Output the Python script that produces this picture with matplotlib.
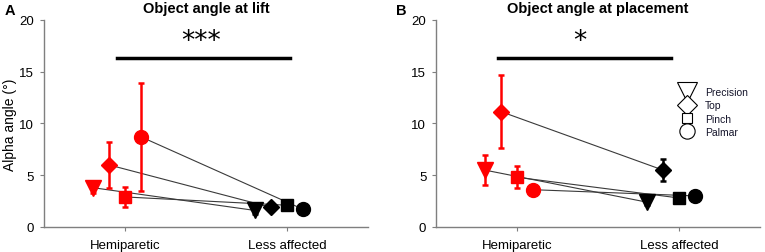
import numpy as np
import matplotlib
matplotlib.use("Agg")
import matplotlib.pyplot as plt
from matplotlib.lines import Line2D

plt.rcParams['font.family'] = ['Liberation Sans', 'DejaVu Sans']

# grip types, marker per grip, x offset around each group
grips = ["Precision", "Top", "Pinch", "Palmar"]
markers = ["v", "D", "s", "o"]
msizes = [11, 8.5, 9, 10]
leg_sizes = [14, 10, 7, 11]
offsets = [-0.2, -0.1, 0.0, 0.1]
groups = ["Hemiparetic", "Less affected"]

# panel A: object angle at lift
lift_hemi = [3.8, 6.0, 2.9, 8.7]
lift_hemi_err = [0.5, 2.25, 0.95, 5.2]
lift_less = [1.6, 1.9, 2.1, 1.7]
lift_less_err = [0.3, 0.3, 0.4, 0.3]

# panel B: object angle at placement
place_hemi = [5.5, 11.15, 4.8, 3.6]
place_hemi_err = [1.45, 3.55, 1.05, 0.3]
place_less = [2.4, 5.5, 2.8, 3.0]
place_less_err = [0.3, 1.05, 0.3, 0.3]

red = "#ff0000"
grey = "#7f7f7f"


def draw(ax, hemi, hemi_err, less, less_err):
    for i in range(len(grips)):
        xh = 1 + offsets[i]
        xl = 2 + offsets[i]
        ax.plot([xh, xl], [hemi[i], less[i]], color="#3a3a3a", lw=0.8, zorder=1)
        ax.errorbar(xh, hemi[i], yerr=hemi_err[i], fmt=markers[i], color=red,
                    ms=msizes[i], elinewidth=1.8, capsize=2.5, capthick=1.8, zorder=3)
        ax.errorbar(xl, less[i], yerr=less_err[i], fmt=markers[i], color="black",
                    ms=msizes[i], elinewidth=1.8, capsize=2.5, capthick=1.8, zorder=3)
    ax.set_xlim(0.5, 2.5)
    ax.set_ylim(0, 20)
    ax.set_xticks([1, 2])
    ax.set_xticklabels(groups)
    ax.set_yticks([0, 5, 10, 15, 20])
    for s in ["top", "right"]:
        ax.spines[s].set_visible(False)
    for s in ["left", "bottom"]:
        ax.spines[s].set_color(grey)
        ax.spines[s].set_linewidth(1)
    ax.tick_params(direction="out", length=3, color=grey, labelsize=9.5, pad=4)
    ax.tick_params(axis="x", pad=6)


fig = plt.figure(figsize=(7.65, 2.53), dpi=100)
axA = fig.add_axes([0.0575, 0.099, 0.4235, 0.818])
axB = fig.add_axes([0.570, 0.099, 0.4235, 0.818])

draw(axA, lift_hemi, lift_hemi_err, lift_less, lift_less_err)
draw(axB, place_hemi, place_hemi_err, place_less, place_less_err)

axA.set_ylabel("Alpha angle (°)", fontsize=10, labelpad=2)

# significance bars
axA.plot([0.95, 2.02], [16.3, 16.3], color="black", lw=2.5)
axA.text(1.47, 16.7, "***", ha="center", va="bottom", fontsize=19,
         family="DejaVu Sans")
axB.plot([0.88, 1.95], [16.3, 16.3], color="black", lw=2.5)
axB.text(1.39, 16.7, "*", ha="center", va="bottom", fontsize=19,
         family="DejaVu Sans")

axA.set_title("Object angle at lift", fontsize=10.5, fontweight="bold", pad=6)
axB.set_title("Object angle at placement", fontsize=10.5, fontweight="bold", pad=6)
fig.text(0.006, 0.985, "A", fontsize=10.5, fontweight="bold", va="top")
fig.text(0.518, 0.985, "B", fontsize=10.5, fontweight="bold", va="top")

handles = [Line2D([], [], marker=m, ls="none", mfc="white", mec="black",
                  mew=0.8, ms=sz) for m, sz in zip(markers, leg_sizes)]
axB.legend(handles, grips, loc="upper left", bbox_to_anchor=(0.75, 0.675),
           frameon=False, prop={"size": 7.5},
           handlelength=1.6, handletextpad=0.9, labelcolor="#14142a",
           labelspacing=0.3, borderpad=0, borderaxespad=0)

fig.savefig("out.png", dpi=100)
